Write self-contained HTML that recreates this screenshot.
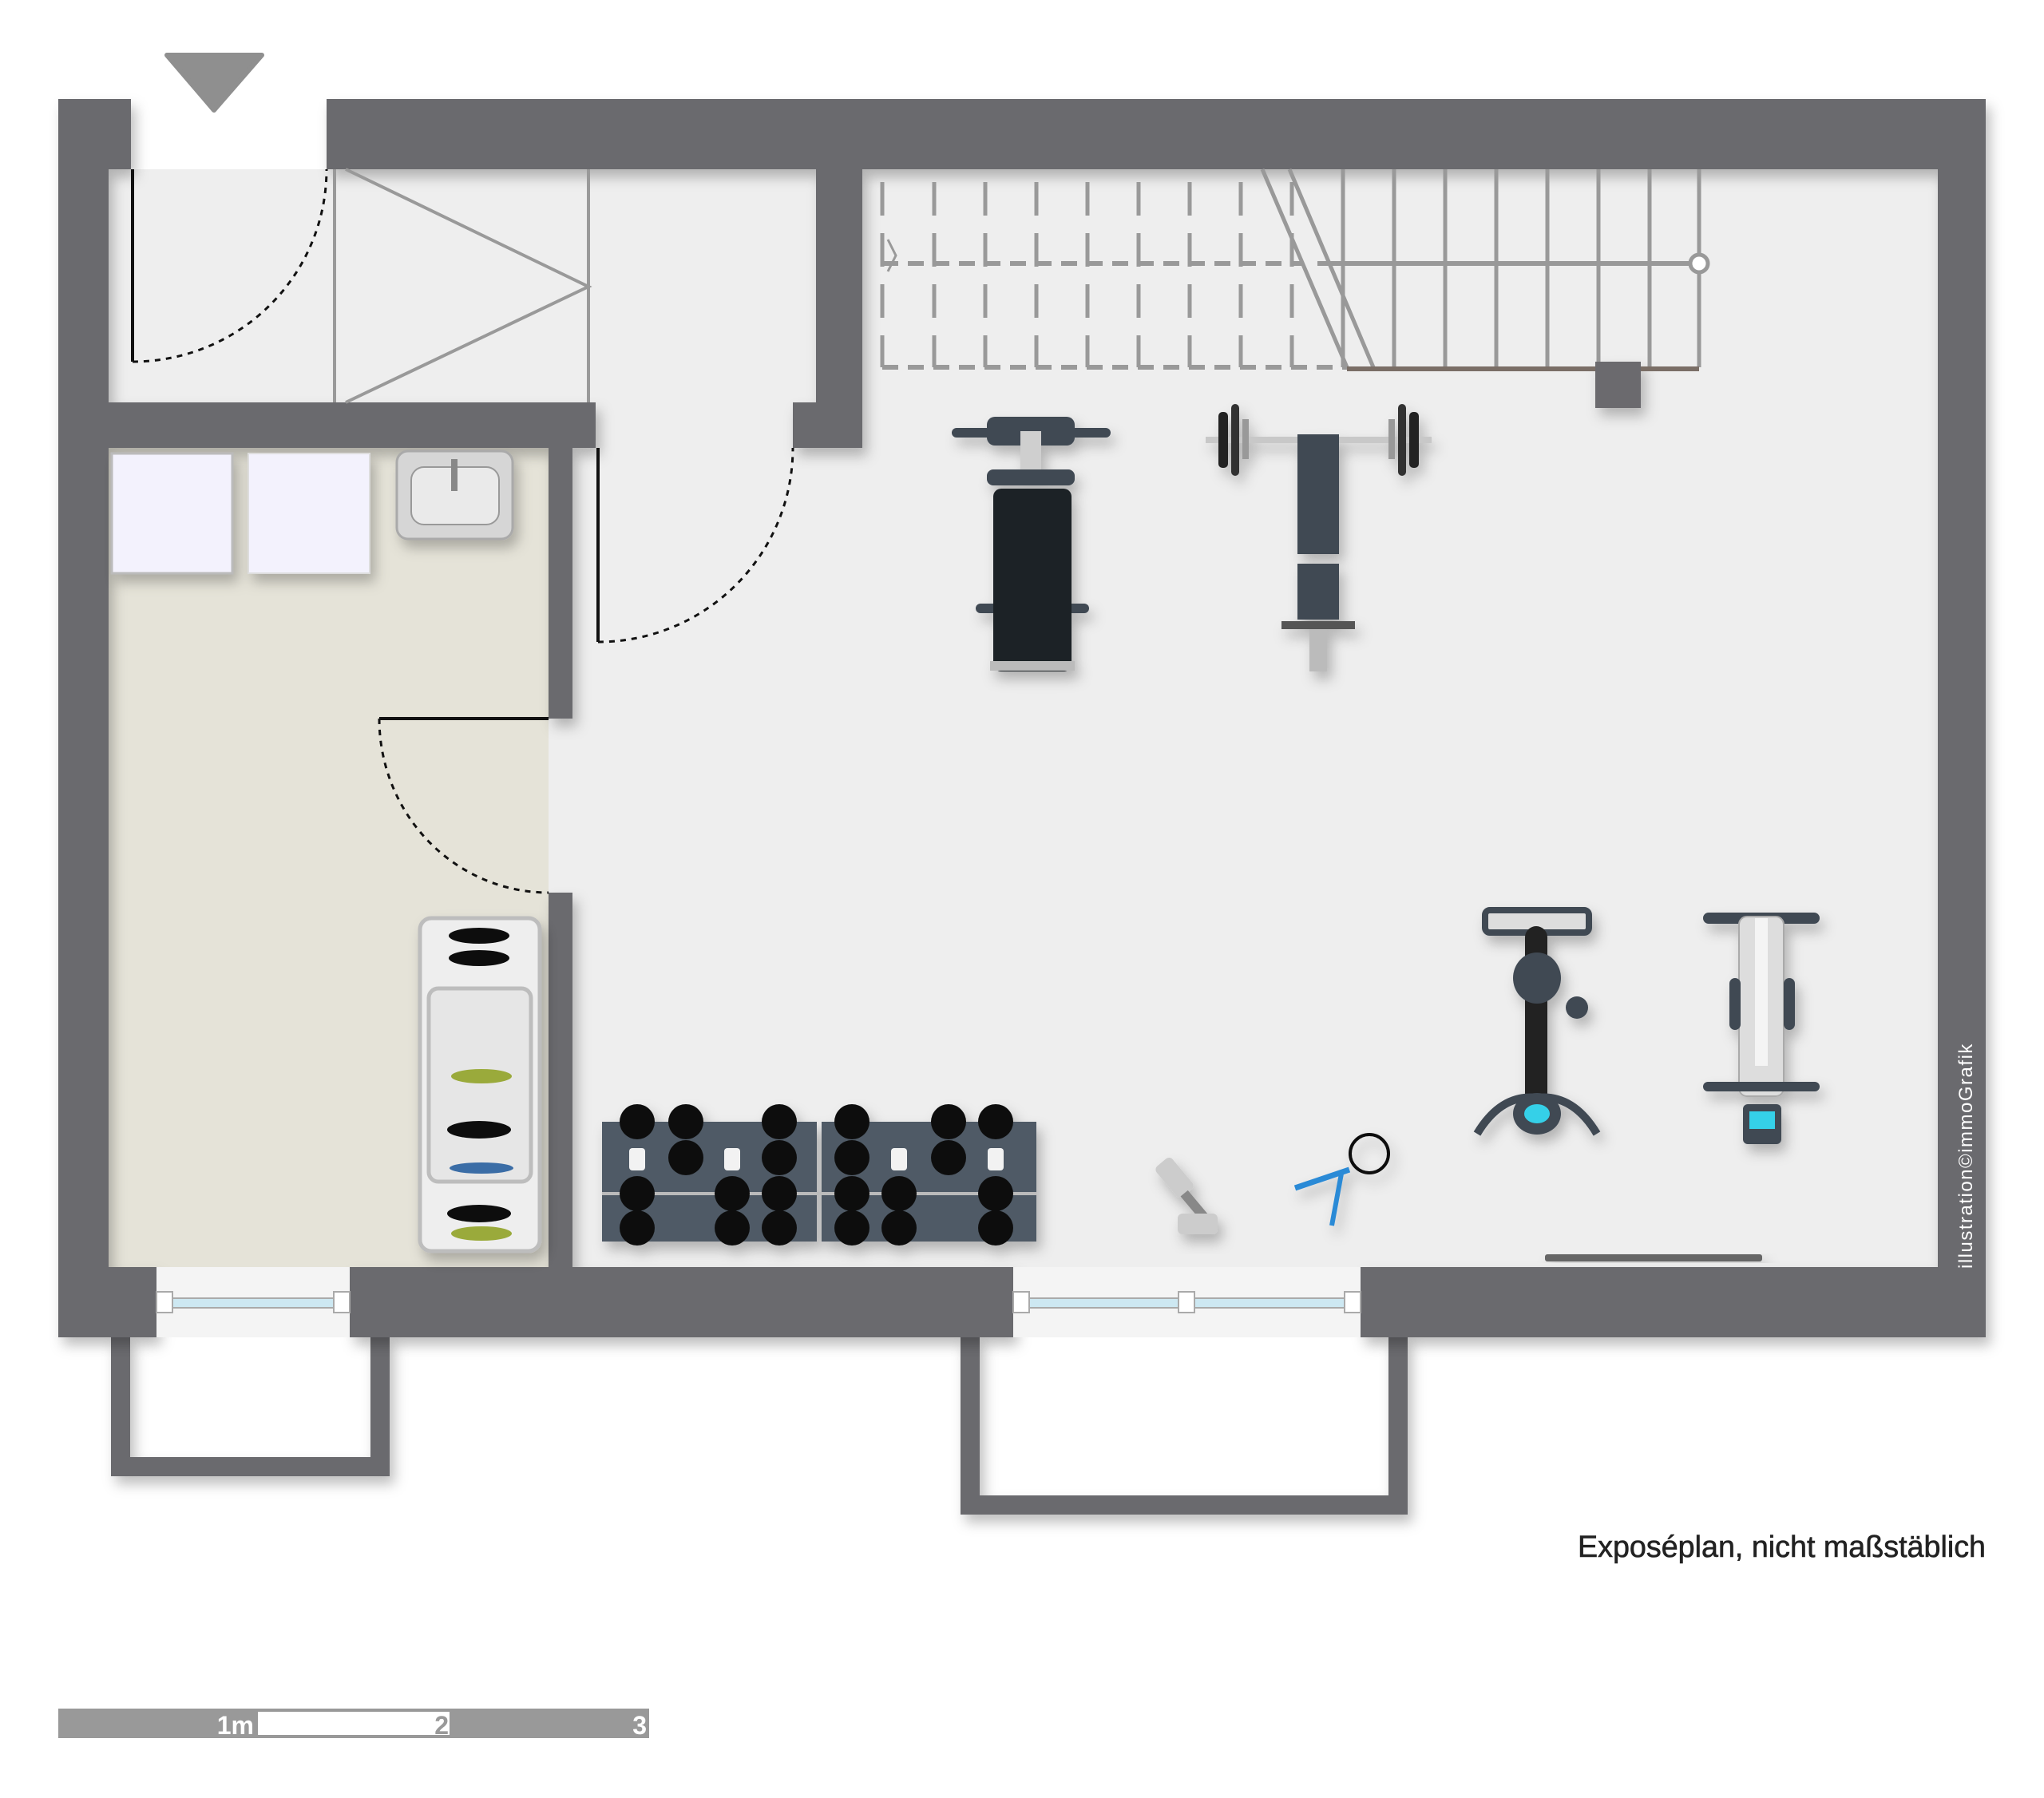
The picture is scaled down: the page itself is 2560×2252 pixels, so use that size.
<!DOCTYPE html>
<html><head><meta charset="utf-8"><style>
html,body{margin:0;padding:0;background:#fff;}
svg{display:block}
text{font-family:"Liberation Sans",sans-serif}
</style></head><body>
<svg width="2560" height="2252" viewBox="0 0 2560 2252" xmlns="http://www.w3.org/2000/svg">
<defs>
<filter id="sh" x="-10%" y="-10%" width="130%" height="130%"><feDropShadow dx="6" dy="10" stdDeviation="8" flood-color="#000" flood-opacity="0.25"/></filter>
</defs>
<rect x="136" y="212" width="2291" height="1375" fill="#eeeeee"/>
<rect x="136" y="561" width="551" height="1026" fill="#e5e3d8"/>
<g filter="url(#sh)" fill="#6b6a6e">
<path d="M139 1673 H488 V1849 H139 Z M163 1673 V1825 H464 V1673 Z" fill-rule="evenodd"/>
<path d="M1203 1673 H1763 V1897 H1203 Z M1227 1673 V1873 H1739 V1673 Z" fill-rule="evenodd"/>
</g>
<g fill="#6b6a6e" filter="url(#sh)">
<rect x="73" y="124" width="91" height="88"/>
<rect x="409" y="124" width="2078" height="88"/>
<rect x="73" y="124" width="63" height="1551"/>
<rect x="2427" y="124" width="60" height="1551"/>
<rect x="73" y="1587" width="123" height="88"/>
<rect x="438" y="1587" width="831" height="88"/>
<rect x="1704" y="1587" width="783" height="88"/>
<rect x="136" y="504" width="610" height="57"/>
<rect x="1022" y="212" width="58" height="349"/>
<rect x="993" y="504" width="87" height="57"/>
<rect x="687" y="561" width="30" height="339"/>
<rect x="687" y="1118" width="30" height="469"/>
<rect x="1998" y="453" width="57" height="58"/>
</g>
<rect x="196" y="1587" width="242" height="88" fill="#f4f4f4"/>
<rect x="1269" y="1587" width="435" height="88" fill="#f4f4f4"/>
<g stroke="#aaa" stroke-width="2">
<rect x="205" y="1626" width="224" height="12" fill="#cde8f2"/>
<rect x="1278" y="1626" width="417" height="12" fill="#cde8f2"/>
<rect x="196" y="1618" width="20" height="26" fill="#fff"/>
<rect x="418" y="1618" width="20" height="26" fill="#fff"/>
<rect x="1269" y="1618" width="20" height="26" fill="#fff"/>
<rect x="1476" y="1618" width="20" height="26" fill="#fff"/>
<rect x="1684" y="1618" width="20" height="26" fill="#fff"/>
</g>
<path d="M209 69 H328 L268 138 Z" fill="#8f8f8f" stroke="#8f8f8f" stroke-width="6" stroke-linejoin="round"/>
<g stroke="#999" stroke-width="4" fill="none">
<line x1="419" y1="212" x2="419" y2="504"/>
<line x1="737" y1="212" x2="737" y2="504"/>
<polyline points="433,212 737,359 433,504"/>
</g>
<line x1="166" y1="212" x2="166" y2="453" stroke="#111" stroke-width="4"/>
<path d="M166 453 A243 241 0 0 0 409 212" stroke="#111" stroke-width="3" fill="none" stroke-dasharray="7 7"/>
<line x1="749" y1="561" x2="749" y2="804" stroke="#111" stroke-width="4"/>
<path d="M749 804 A244 243 0 0 0 993 561" stroke="#111" stroke-width="3" fill="none" stroke-dasharray="7 7"/>
<line x1="475" y1="900" x2="687" y2="900" stroke="#111" stroke-width="4"/>
<path d="M475 900 A212 218 0 0 0 687 1118" stroke="#111" stroke-width="3" fill="none" stroke-dasharray="7 7"/>
<g stroke="#999" stroke-width="5" fill="none">
<g stroke-dasharray="42 22">
<line x1="1105" y1="228" x2="1105" y2="460"/>
<line x1="1170" y1="228" x2="1170" y2="460"/>
<line x1="1234" y1="228" x2="1234" y2="460"/>
<line x1="1298" y1="228" x2="1298" y2="460"/>
<line x1="1362" y1="228" x2="1362" y2="460"/>
<line x1="1426" y1="228" x2="1426" y2="460"/>
<line x1="1490" y1="228" x2="1490" y2="460"/>
<line x1="1554" y1="228" x2="1554" y2="460"/>
<line x1="1618" y1="228" x2="1618" y2="460"/>
</g>
<line x1="1105" y1="330" x2="1630" y2="330" stroke-dasharray="20 12" stroke-width="6"/>
<line x1="1105" y1="460" x2="1687" y2="460" stroke-dasharray="20 12" stroke-width="6"/>
<line x1="1581" y1="212" x2="1687" y2="460"/>
<line x1="1615" y1="212" x2="1720" y2="460"/>
<line x1="1682" y1="212" x2="1682" y2="460"/>
<line x1="1746" y1="212" x2="1746" y2="460"/>
<line x1="1810" y1="212" x2="1810" y2="460"/>
<line x1="1874" y1="212" x2="1874" y2="460"/>
<line x1="1938" y1="212" x2="1938" y2="460"/>
<line x1="2002" y1="212" x2="2002" y2="460"/>
<line x1="2066" y1="212" x2="2066" y2="460"/>
<line x1="2128" y1="212" x2="2128" y2="460"/>
<line x1="1650" y1="330" x2="2116" y2="330" stroke-width="6"/>
<circle cx="2128" cy="330" r="11" fill="#fff"/>
<polyline points="1112,300 1122,320 1112,340" stroke-width="3"/>
</g>
<line x1="1687" y1="462" x2="2128" y2="462" stroke="#7a6e66" stroke-width="6"/>
<rect x="1998" y="453" width="57" height="58" fill="#6b6a6e"/>
<g filter="url(#sh)">
<rect x="140" y="568" width="151" height="150" fill="#f3f2fd" stroke="#bbb" stroke-width="3"/>
<rect x="311" y="568" width="152" height="150" fill="#f3f2fd" stroke="#ddd" stroke-width="2"/>
<rect x="497" y="565" width="145" height="110" rx="14" fill="#d6d6d6" stroke="#aaa" stroke-width="3"/>
<rect x="515" y="585" width="110" height="72" rx="16" fill="#eaeaea" stroke="#999" stroke-width="2"/>
<rect x="565" y="575" width="8" height="40" fill="#888"/>
</g>
<g filter="url(#sh)">
<rect x="526" y="1150" width="150" height="417" rx="14" fill="#eeeeee" stroke="#bdbdbd" stroke-width="5"/>
<rect x="537" y="1238" width="128" height="242" rx="12" fill="#e6e6e6" stroke="#bdbdbd" stroke-width="5"/>
<g fill="#111"><ellipse cx="600" cy="1172" rx="38" ry="10"/><ellipse cx="600" cy="1200" rx="38" ry="10"/><ellipse cx="600" cy="1415" rx="40" ry="11"/><ellipse cx="600" cy="1520" rx="40" ry="11"/></g>
<g fill="#9aaa3a"><ellipse cx="603" cy="1348" rx="38" ry="9"/><ellipse cx="603" cy="1545" rx="38" ry="9"/></g>
<ellipse cx="603" cy="1463" rx="40" ry="7" fill="#3b6da6"/>
</g>
<g filter="url(#sh)">
<rect x="1192" y="536" width="199" height="12" rx="6" fill="#3f4853"/>
<rect x="1236" y="522" width="110" height="36" rx="10" fill="#3f4853"/>
<rect x="1278" y="540" width="26" height="60" fill="#cfcfcf"/>
<rect x="1236" y="588" width="110" height="20" rx="8" fill="#3f4853"/>
<rect x="1222" y="756" width="142" height="12" rx="6" fill="#3f4853"/>
<rect x="1244" y="612" width="98" height="229" rx="10" fill="#1e2228"/>
<rect x="1240" y="828" width="106" height="12" fill="#bbb"/>
</g>
<g filter="url(#sh)">
<rect x="1510" y="547" width="283" height="8" fill="#c8c8c8"/>
<rect x="1526" y="516" width="12" height="70" rx="5" fill="#222"/>
<rect x="1542" y="506" width="10" height="90" rx="5" fill="#333"/>
<rect x="1556" y="525" width="8" height="50" fill="#999"/>
<rect x="1765" y="516" width="12" height="70" rx="5" fill="#222"/>
<rect x="1751" y="506" width="10" height="90" rx="5" fill="#333"/>
<rect x="1739" y="525" width="8" height="50" fill="#999"/>
<rect x="1625" y="544" width="52" height="150" fill="#3f4853"/>
<rect x="1625" y="706" width="52" height="70" fill="#3f4853"/>
<rect x="1605" y="778" width="92" height="10" fill="#555"/>
<rect x="1640" y="788" width="22" height="53" fill="#bbb"/>
</g>
<g filter="url(#sh)">
<rect x="754" y="1405" width="269" height="150" fill="#4f5a66"/>
<rect x="1029" y="1405" width="269" height="150" fill="#4f5a66"/>
<line x1="754" y1="1495" x2="1298" y2="1495" stroke="#bbb" stroke-width="4"/>
<g fill="#111">
<circle cx="798" cy="1405" r="22"/><circle cx="859" cy="1405" r="22"/><circle cx="976" cy="1405" r="22"/><circle cx="1067" cy="1405" r="22"/><circle cx="1188" cy="1405" r="22"/><circle cx="1247" cy="1405" r="22"/>
<circle cx="859" cy="1450" r="22"/><circle cx="976" cy="1450" r="22"/><circle cx="1067" cy="1450" r="22"/><circle cx="1188" cy="1450" r="22"/>
<circle cx="798" cy="1495" r="22"/><circle cx="917" cy="1495" r="22"/><circle cx="976" cy="1495" r="22"/><circle cx="1067" cy="1495" r="22"/><circle cx="1126" cy="1495" r="22"/><circle cx="1247" cy="1495" r="22"/>
<circle cx="798" cy="1538" r="22"/><circle cx="917" cy="1538" r="22"/><circle cx="976" cy="1538" r="22"/><circle cx="1067" cy="1538" r="22"/><circle cx="1126" cy="1538" r="22"/><circle cx="1247" cy="1538" r="22"/>
</g>
<g fill="#f2f2f2"><rect x="788" y="1438" width="20" height="28" rx="4"/><rect x="907" y="1438" width="20" height="28" rx="4"/><rect x="1116" y="1438" width="20" height="28" rx="4"/><rect x="1237" y="1438" width="20" height="28" rx="4"/></g>
</g>
<g filter="url(#sh)">
<rect x="1458" y="1450" width="26" height="50" rx="6" fill="#ccc" transform="rotate(-40 1471 1475)"/>
<rect x="1490" y="1490" width="12" height="40" fill="#888" transform="rotate(-40 1496 1510)"/>
<rect x="1475" y="1520" width="50" height="26" rx="6" fill="#ccc"/>
<circle cx="1715" cy="1445" r="24" fill="none" stroke="#111" stroke-width="4"/>
<line x1="1622" y1="1488" x2="1690" y2="1465" stroke="#2a8ad6" stroke-width="7"/>
<line x1="1680" y1="1470" x2="1668" y2="1535" stroke="#2a8ad6" stroke-width="6"/>
</g>
<g filter="url(#sh)">
<rect x="1860" y="1140" width="130" height="28" rx="6" fill="#ddd" stroke="#3f4853" stroke-width="8"/>
<rect x="1910" y="1160" width="28" height="240" rx="14" fill="#222"/>
<ellipse cx="1925" cy="1225" rx="30" ry="32" fill="#3f4853"/>
<circle cx="1975" cy="1262" r="14" fill="#3f4853"/>
<path d="M1850 1420 Q1880 1370 1925 1375 Q1970 1370 2000 1420" fill="none" stroke="#3f4853" stroke-width="10"/>
<ellipse cx="1925" cy="1395" rx="30" ry="26" fill="#3f4853"/>
<ellipse cx="1925" cy="1395" rx="16" ry="12" fill="#36d0e8"/>
</g>
<g filter="url(#sh)">
<rect x="2133" y="1143" width="146" height="14" rx="7" fill="#3f4853"/>
<rect x="2178" y="1148" width="56" height="225" rx="10" fill="#ddd" stroke="#aaa" stroke-width="2"/>
<rect x="2198" y="1150" width="16" height="185" fill="#f4f4f4"/>
<rect x="2166" y="1225" width="14" height="65" rx="7" fill="#3f4853"/>
<rect x="2234" y="1225" width="14" height="65" rx="7" fill="#3f4853"/>
<rect x="2133" y="1355" width="146" height="12" rx="6" fill="#3f4853"/>
<rect x="2183" y="1383" width="48" height="50" rx="6" fill="#3f4853"/>
<rect x="2191" y="1392" width="32" height="22" fill="#36d0e8"/>
</g>
<rect x="1935" y="1571" width="272" height="9" rx="3" fill="#666" filter="url(#sh)"/>
<text x="2470" y="1589" transform="rotate(-90 2470 1589)" font-size="24" fill="#fff" letter-spacing="1.5">illustration©immoGrafik</text>
<text x="1976" y="1950" font-size="38" fill="#222" textLength="511" lengthAdjust="spacingAndGlyphs" stroke="#222" stroke-width="0.6">Exposéplan, nicht maßstäblich</text>
<rect x="73" y="2140" width="740" height="37" fill="#999"/>
<rect x="323" y="2144" width="240" height="29" fill="#fff"/>
<text x="318" y="2172" text-anchor="end" font-size="32" fill="#fff" font-weight="bold">1m</text>
<text x="562" y="2172" text-anchor="end" font-size="32" fill="#999" font-weight="bold">2</text>
<text x="810" y="2172" text-anchor="end" font-size="32" fill="#fff" font-weight="bold">3</text>
</svg>
</body></html>
